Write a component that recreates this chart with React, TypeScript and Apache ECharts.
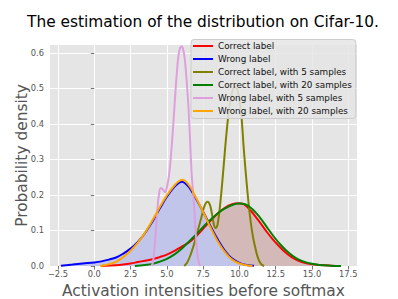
import React, { useEffect, useRef } from "react";
import * as echarts from "echarts";

const xTicks = [-2.5, 0, 2.5, 5, 7.5, 10, 12.5, 15, 17.5];
const xTickLabels = ["−2.5", "0.0", "2.5", "5.0", "7.5", "10.0", "12.5", "15.0", "17.5"];
const yTicks = [0, 0.1, 0.2, 0.3, 0.4, 0.5, 0.6];
const yTickLabels = ["0.0", "0.1", "0.2", "0.3", "0.4", "0.5", "0.6"];

const seriesNames = [
  "Correct label",
  "Wrong label",
  "Correct label, with 5 samples",
  "Correct label, with 20 samples",
  "Wrong label, with 5 samples",
  "Wrong label, with 20 samples",
];

const correctLabel: [number, number][] = [
  [0.5, 0.0], [1.5, 0.002], [2.0, 0.004], [2.5, 0.007], [3.0, 0.011], [3.5, 0.015],
  [4.0, 0.019], [4.5, 0.025], [5.0, 0.032], [5.5, 0.042], [6.0, 0.054], [6.5, 0.066],
  [7.0, 0.083], [7.5, 0.105], [8.0, 0.127], [8.5, 0.148], [9.0, 0.164], [9.5, 0.174],
  [9.9, 0.177], [10.3, 0.174], [10.8, 0.155], [11.3, 0.129], [11.8, 0.101], [12.3, 0.075],
  [12.8, 0.053], [13.3, 0.034], [13.8, 0.020], [14.3, 0.011], [14.8, 0.006], [15.5, 0.003],
  [16.3, 0.001], [17.0, 0.0],
];

const wrongLabel: [number, number][] = [
  [-2.3, 0.001], [-1.5, 0.004], [-0.8, 0.007], [0, 0.010], [0.5, 0.013], [1.0, 0.018],
  [1.5, 0.024], [2.0, 0.035], [2.5, 0.049], [3.0, 0.068], [3.5, 0.093], [4.0, 0.125],
  [4.5, 0.161], [5.0, 0.195], [5.5, 0.222], [5.8, 0.233], [6.05, 0.237], [6.3, 0.232],
  [6.6, 0.218], [7.0, 0.19], [7.5, 0.153], [8.0, 0.113], [8.5, 0.075], [9.0, 0.043],
  [9.5, 0.021], [10.0, 0.009], [10.5, 0.003], [11.0, 0.001],
];

const correct5: [number, number][] = [
  [6.2, 0.0], [6.4, 0.01], [6.6, 0.028], [6.85, 0.058], [7.1, 0.095], [7.4, 0.14],
  [7.6, 0.17], [7.8, 0.181], [8.0, 0.168], [8.2, 0.125], [8.35, 0.107], [8.5, 0.118],
  [8.7, 0.185], [8.9, 0.275], [9.1, 0.37], [9.3, 0.445], [9.5, 0.49], [9.7, 0.505],
  [9.9, 0.49], [10.1, 0.44], [10.3, 0.33], [10.5, 0.233], [10.7, 0.15], [10.9, 0.09],
  [11.1, 0.05], [11.3, 0.02], [11.5, 0.005], [11.7, 0.0],
];

const correct20: [number, number][] = [
  [2.8, 0.0], [3.5, 0.003], [4.0, 0.006], [4.5, 0.012], [5.0, 0.02], [5.5, 0.032],
  [6.0, 0.048], [6.5, 0.068], [7.0, 0.088], [7.5, 0.11], [8.0, 0.13], [8.5, 0.148],
  [9.0, 0.162], [9.5, 0.172], [10.0, 0.176], [10.4, 0.174], [10.9, 0.16], [11.4, 0.137],
  [11.9, 0.109], [12.4, 0.081], [12.9, 0.057], [13.4, 0.037], [13.9, 0.022], [14.4, 0.013],
  [14.9, 0.007], [15.5, 0.003], [16.3, 0.001], [17.0, 0.0],
];

const wrong5: [number, number][] = [
  [3.95, 0.0], [4.05, 0.012], [4.15, 0.05], [4.25, 0.105], [4.35, 0.16], [4.45, 0.2],
  [4.58, 0.22], [4.72, 0.216], [4.88, 0.208], [5.02, 0.225], [5.17, 0.262], [5.3, 0.32],
  [5.42, 0.385], [5.55, 0.465], [5.68, 0.54], [5.8, 0.592], [5.92, 0.615], [6.03, 0.618],
  [6.13, 0.608], [6.23, 0.585], [6.32, 0.545], [6.42, 0.49], [6.5, 0.44], [6.6, 0.355],
  [6.7, 0.265], [6.8, 0.21], [6.9, 0.155], [7.0, 0.085], [7.1, 0.035], [7.2, 0.01],
  [7.3, 0.0],
];

const wrong20: [number, number][] = [
  [0.4, 0.0], [0.8, 0.003], [1.2, 0.007], [1.6, 0.014], [2.0, 0.025], [2.5, 0.043],
  [3.0, 0.066], [3.5, 0.094], [4.0, 0.128], [4.5, 0.165], [5.0, 0.199], [5.5, 0.226],
  [5.8, 0.238], [6.05, 0.243], [6.3, 0.238], [6.6, 0.223], [7.0, 0.193], [7.5, 0.152],
  [8.0, 0.109], [8.5, 0.07], [9.0, 0.039], [9.5, 0.018], [10.0, 0.007], [10.5, 0.002],
  [10.9, 0.0],
];

const lineColors = ["#FF0000", "#0000FF", "#808000", "#008000", "#DDA0DD", "#FFA500"];
const lineData = [correctLabel, wrongLabel, correct5, correct20, wrong5, wrong20];

const FONT = "DejaVu Sans";

export default function App() {
  const ref = useRef<HTMLDivElement>(null);
  useEffect(() => {
    const chart = echarts.init(ref.current!, null, { renderer: "svg" });
    const fillSeries = [
      { name: "fill-correct", data: correctLabel, color: "#D4B9B9", z: 1 },
      { name: "fill-wrong", data: wrongLabel, color: "#C2C5EA", z: 1.5 },
    ].map((f) => ({
      type: "line",
      name: f.name,
      data: f.data,
      smooth: 0.4,
      showSymbol: false,
      silent: true,
      z: f.z,
      lineStyle: { width: 0, color: f.color },
      itemStyle: { color: f.color },
      areaStyle: { color: f.color, opacity: 1 },
    }));
    const lines = seriesNames.map((n, i) => ({
      type: "line",
      name: n,
      data: lineData[i],
      smooth: 0.4,
      showSymbol: false,
      z: 3,
      color: lineColors[i],
      lineStyle: { width: 2, color: lineColors[i] },
      itemStyle: { color: lineColors[i] },
    }));
    chart.setOption({
      animation: false,
      backgroundColor: "#FFFFFF",
      title: {
        text: "The estimation of the distribution on Cifar-10.",
        left: 203,
        top: 14,
        padding: 0,
        textAlign: "center",
        textStyle: { fontFamily: FONT, fontSize: 15.4, fontWeight: "normal", color: "#000" },
      },
      legend: {
        data: seriesNames,
        orient: "vertical",
        left: 191,
        top: 39.5,
        padding: [0, 4, 1, 2],
        itemGap: 0,
        itemWidth: 20,
        itemHeight: 2,
        icon: "rect",
        backgroundColor: "rgba(229,229,229,0.85)",
        borderColor: "#CCCCCC",
        borderWidth: 1,
        borderRadius: 3,
        textStyle: { fontFamily: FONT, fontSize: 8.8, color: "#111", lineHeight: 13 },
      },
      grid: {
        left: 50,
        right: 41,
        top: 45,
        bottom: 33,
        show: true,
        containLabel: false,
        outerBoundsMode: "none",
        backgroundColor: "#E5E5E5",
        borderWidth: 0,
      },
      xAxis: {
        type: "value",
        min: -3.05,
        max: 18.1,
        name: "Activation intensities before softmax",
        nameLocation: "middle",
        nameGap: 17,
        nameMoveOverlap: false,
        nameTextStyle: { fontFamily: FONT, fontSize: 15.4, color: "#555" },
        axisLine: { show: false },
        axisTick: { show: true, length: 3.5, customValues: xTicks, lineStyle: { color: "#555", width: 0.8 } },
        axisLabel: {
          customValues: xTicks,
          formatter: (v: number) => xTickLabels[xTicks.indexOf(v)] ?? "",
          fontFamily: FONT,
          fontSize: 8.3,
          color: "#555",
          margin: 4,
        },
        splitLine: { show: true, lineStyle: { color: "#FFFFFF", width: 1 } },
      },
      yAxis: {
        type: "value",
        min: 0,
        max: 0.6225,
        name: "Probability density",
        nameLocation: "middle",
        nameGap: 21,
        nameMoveOverlap: false,
        nameTextStyle: { fontFamily: FONT, fontSize: 15.4, color: "#555" },
        axisLine: { show: false },
        axisTick: { show: true, length: 3.5, customValues: yTicks, lineStyle: { color: "#555", width: 0.8 } },
        axisLabel: {
          customValues: yTicks,
          formatter: (v: number) => {
            const idx = yTicks.findIndex((t) => Math.abs(t - v) < 1e-9);
            return idx >= 0 ? yTickLabels[idx] : "";
          },
          fontFamily: FONT,
          fontSize: 8.3,
          color: "#555",
          margin: 6,
        },
        splitLine: { show: true, lineStyle: { color: "#FFFFFF", width: 1 } },
      },
      series: [...fillSeries, ...lines],
    });
    return () => chart.dispose();
  }, []);
  return (
    <div
      ref={ref}
      style={{ position: "fixed", left: 0, top: 0, width: 398, height: 299 }}
    />
  );
}
